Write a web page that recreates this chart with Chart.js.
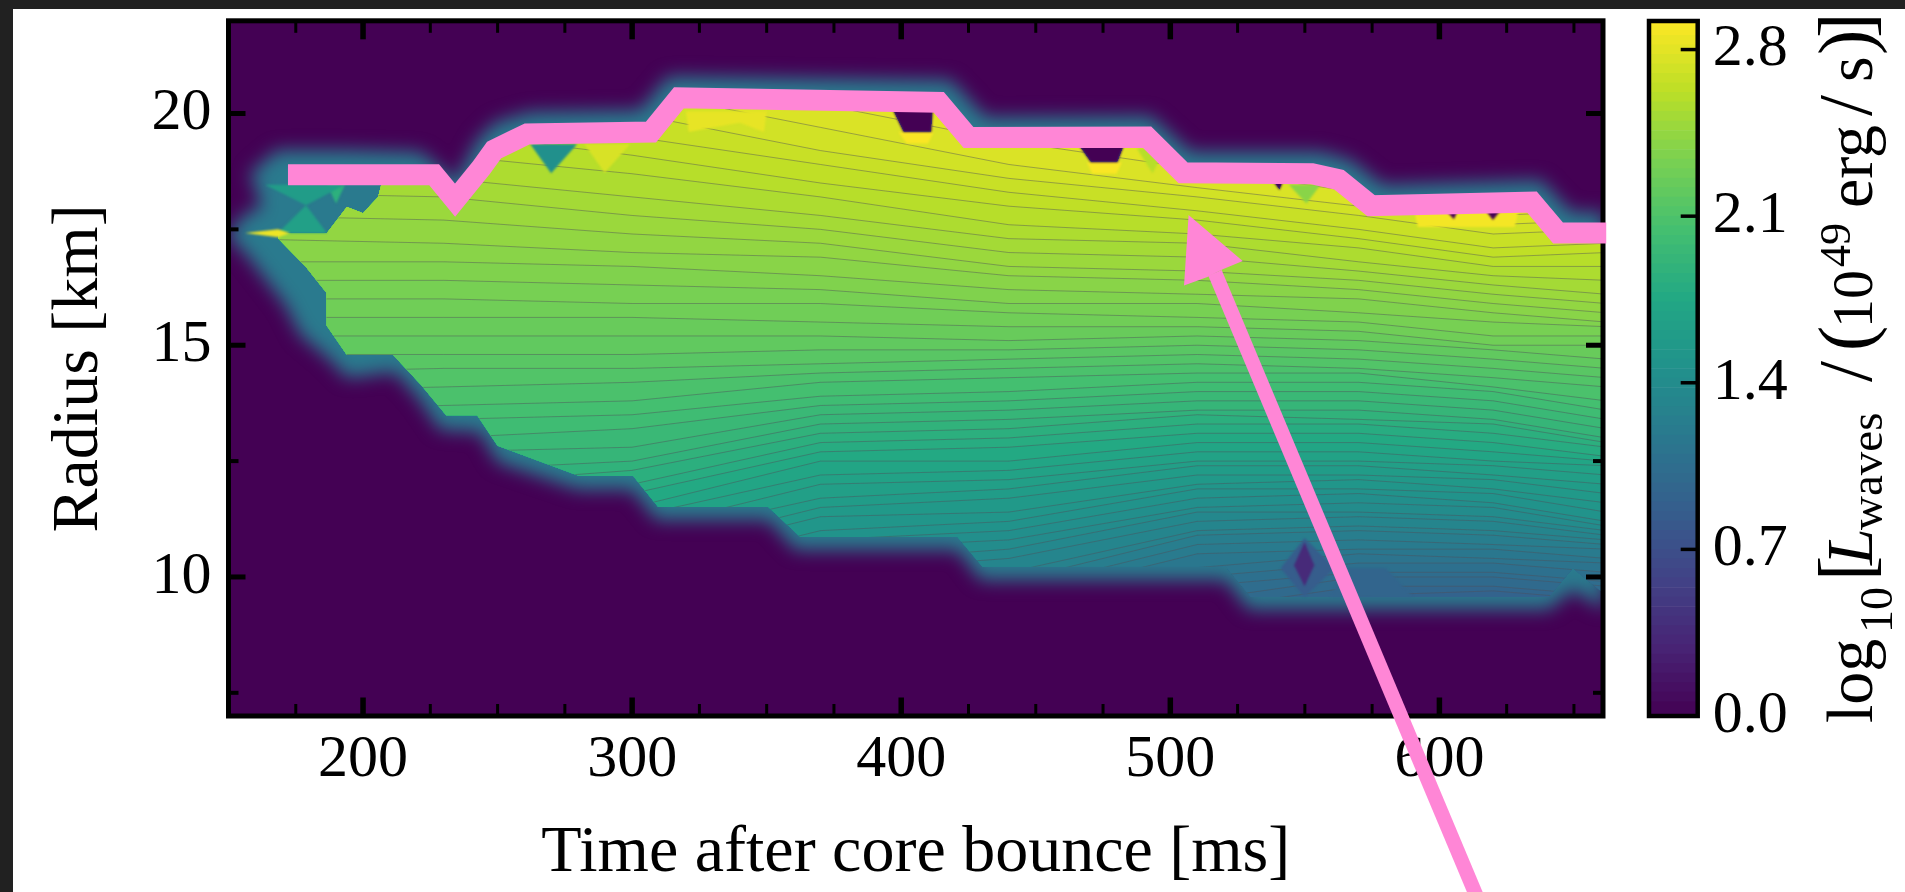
<!DOCTYPE html>
<html>
<head>
<meta charset="utf-8">
<title>Wave luminosity</title>
<script src="https://cdn.jsdelivr.net/npm/chart.js@4"></script>
<style>
  html, body { margin: 0; height: 100%; background: #212121; overflow: hidden; }
  #plate { position: absolute; left: 13px; top: 9px; right: 0; bottom: 0; background: #fff; }
  canvas { position: absolute; top: 0; }
  #mainChart { left: 0; }
  #barChart { left: 1600px; }
</style>
</head>
<body>
<div id="plate"></div>
<canvas id="mainChart" width="1905" height="892"></canvas>
<canvas id="barChart" width="305" height="892"></canvas>
<script>
// axes
const xMajorTicks = [200, 300, 400, 500, 600];
const xTicks = [175, 200, 225, 250, 275, 300, 325, 350, 375, 400, 425, 450, 475, 500, 525, 550, 575, 600, 625, 650];
const yMajorTicks = [10, 15, 20];
const yTicks = [7.5, 10, 12.5, 15, 17.5, 20];
const colorbarTicks = [0, 0.7, 1.4, 2.1, 2.8];

// contour levels of log10 L, each one has a radius at every contour time
const lowLevels = [0, 0.06, 0.10, 0.14, 0.18, 0.22, 0.26, 0.30, 0.34, 0.38, 0.42, 0.46, 0.50, 0.54, 0.58, 0.62, 0.66, 0.70, 0.74, 0.78, 0.82, 0.86];
const contourLevels = [0.90, 0.94, 0.98, 1.02, 1.06, 1.10, 1.14, 1.18, 1.22, 1.26,
  1.30, 1.34, 1.38, 1.42, 1.46, 1.50, 1.54, 1.58, 1.62, 1.66,
  1.70, 1.74, 1.78, 1.82, 1.86, 1.90, 1.94, 1.98, 2.02, 2.06,
  2.10, 2.14, 2.18, 2.22, 2.26, 2.30, 2.34, 2.38, 2.42, 2.46,
  2.50, 2.54, 2.58, 2.62, 2.66, 2.70, 2.74, 2.78, 2.82, 2.86, 2.90];
const contourTimes = [150, 230, 300, 370, 440, 510, 570, 620, 662];
const radiiAt150 = [5.0, 5.3, 5.5, 5.8, 6.1, 6.3, 6.6, 6.9, 7.1, 7.4,
  7.7, 7.9, 8.2, 8.5, 8.7, 9.0, 9.3, 9.6, 9.9, 10.2,
  10.5, 10.8, 11.1, 11.4, 11.7, 12.0, 12.4, 12.8, 13.2, 13.6,
  14.0, 14.4, 14.8, 15.2, 15.6, 16.0, 16.4, 16.8, 17.3, 17.8,
  18.3, 18.8, 19.3, 19.8, 20.2, 20.7, 21.1, 21.6, 22.1, 22.5, 23.0];
const radiiAt230 = [6.0, 6.2, 6.5, 6.7, 6.9, 7.2, 7.4, 7.6, 7.9, 8.1,
  8.3, 8.6, 8.8, 9.0, 9.3, 9.5, 9.8, 10.1, 10.4, 10.6,
  10.9, 11.2, 11.5, 11.7, 12.0, 12.3, 12.7, 13.0, 13.4, 13.7,
  14.1, 14.5, 14.8, 15.2, 15.6, 16.0, 16.4, 16.8, 17.2, 17.7,
  18.2, 18.6, 19.1, 19.6, 20.0, 20.5, 21.0, 21.5, 22.0, 22.5, 23.0];
const radiiAt300 = [6.5, 6.7, 7.0, 7.2, 7.4, 7.7, 7.9, 8.1, 8.4, 8.6,
  8.8, 9.1, 9.3, 9.5, 9.8, 10.0, 10.3, 10.5, 10.8, 11.0,
  11.3, 11.5, 11.8, 12.0, 12.3, 12.5, 12.8, 13.2, 13.5, 13.8,
  14.2, 14.5, 14.8, 15.2, 15.6, 15.9, 16.3, 16.7, 17.0, 17.4,
  17.8, 18.2, 18.7, 19.1, 19.5, 20.0, 20.5, 21.0, 21.5, 22.0, 22.5];
const radiiAt370 = [7.5, 7.7, 8.0, 8.2, 8.4, 8.7, 8.9, 9.2, 9.4, 9.6,
  9.9, 10.1, 10.3, 10.6, 10.8, 11.0, 11.3, 11.5, 11.7, 12.0,
  12.2, 12.5, 12.7, 12.9, 13.1, 13.3, 13.5, 13.7, 13.9, 14.2,
  14.4, 14.6, 14.9, 15.2, 15.5, 15.9, 16.2, 16.5, 16.9, 17.2,
  17.5, 17.8, 18.2, 18.5, 18.9, 19.2, 19.7, 20.2, 20.6, 21.1, 21.6];
const radiiAt440 = [8.0, 8.2, 8.4, 8.6, 8.9, 9.1, 9.3, 9.5, 9.7, 9.9,
  10.1, 10.4, 10.6, 10.8, 11.0, 11.2, 11.4, 11.7, 11.9, 12.1,
  12.3, 12.5, 12.8, 13.0, 13.2, 13.4, 13.6, 13.8, 14.0, 14.3,
  14.5, 14.7, 14.9, 15.1, 15.4, 15.7, 15.9, 16.2, 16.5, 16.7,
  17.0, 17.3, 17.6, 18.0, 18.3, 18.6, 18.9, 19.4, 19.8, 20.3, 20.8];
const radiiAt510 = [8.8, 9.1, 9.3, 9.5, 9.8, 10.0, 10.2, 10.5, 10.7, 10.9,
  11.0, 11.2, 11.4, 11.5, 11.7, 11.9, 12.0, 12.2, 12.4, 12.5,
  12.7, 12.9, 13.1, 13.3, 13.5, 13.6, 13.8, 14.0, 14.2, 14.4,
  14.6, 14.8, 15.0, 15.2, 15.4, 15.6, 15.9, 16.1, 16.4, 16.6,
  16.9, 17.2, 17.4, 17.7, 17.9, 18.2, 18.4, 18.8, 19.1, 19.5, 19.9];
const radiiAt570 = [9.4, 9.6, 9.8, 10.0, 10.1, 10.3, 10.5, 10.6, 10.8, 11.0,
  11.1, 11.3, 11.4, 11.6, 11.8, 11.9, 12.1, 12.2, 12.4, 12.5,
  12.7, 12.9, 13.1, 13.3, 13.4, 13.6, 13.8, 14.0, 14.2, 14.4,
  14.5, 14.7, 14.9, 15.1, 15.3, 15.5, 15.7, 16.0, 16.2, 16.4,
  16.6, 16.8, 17.1, 17.3, 17.5, 17.8, 18.0, 18.3, 18.6, 19.0, 19.3];
const radiiAt620 = [9.5, 9.7, 9.8, 10.0, 10.1, 10.3, 10.4, 10.6, 10.7, 10.9,
  11.0, 11.2, 11.3, 11.5, 11.6, 11.8, 11.9, 12.1, 12.2, 12.4,
  12.5, 12.7, 12.9, 13.1, 13.3, 13.4, 13.6, 13.8, 14.0, 14.1,
  14.3, 14.5, 14.7, 14.9, 15.0, 15.2, 15.5, 15.7, 15.9, 16.1,
  16.3, 16.5, 16.7, 16.9, 17.1, 17.4, 17.6, 17.8, 18.1, 18.5, 18.8];
const radiiAt662 = [9.3, 9.5, 9.6, 9.8, 9.9, 10.1, 10.3, 10.4, 10.6, 10.7,
  10.8, 10.9, 11.0, 11.1, 11.2, 11.4, 11.6, 11.8, 12.0, 12.2,
  12.4, 12.5, 12.6, 12.8, 12.9, 13.0, 13.2, 13.4, 13.6, 13.8,
  14.1, 14.3, 14.5, 14.7, 15.0, 15.2, 15.4, 15.5, 15.7, 15.9,
  16.1, 16.4, 16.7, 17.0, 17.2, 17.5, 17.7, 17.9, 18.1, 18.4, 18.6];

// upper and lower rim of the filled region
const topTimes = [168.4, 186.6, 194.0, 200.0, 205.6, 207.4, 226.4, 234.2, 244.0, 248.7, 255.4, 261.0, 307.0, 317.4, 395.0, 400.8, 411.2, 412.0, 414.0, 425.0, 463.8, 470.4, 480.4, 484.0, 491.3, 504.7, 536.0, 540.6, 543.0, 552.7, 562.7, 574.6, 600.0, 605.4, 608.0, 615.0, 619.9, 625.0, 634.4, 644.1, 662.0];
const topRadii = [17.42, 17.42, 17.98, 17.85, 18.2, 18.6, 18.68, 18.13, 18.83, 19.21, 19.40, 19.56, 19.60, 20.34, 20.30, 19.6, 19.6, 20.24, 20.24, 19.48, 19.48, 18.95, 18.95, 19.48, 19.49, 18.72, 18.71, 18.35, 18.70, 18.70, 18.57, 18.01, 18.05, 17.72, 18.05, 18.07, 17.70, 18.07, 18.09, 17.42, 17.42];
const bottomTimes = [168.4, 178.8, 186.4, 186.4, 194.0, 211.2, 221.6, 230.9, 242.4, 250.0, 280.3, 300.4, 309.7, 350.6, 362.5, 420.9, 430.2, 520.6, 529.9, 640.7, 649.6, 662.0];
const bottomRadii = [17.31, 16.69, 16.13, 15.43, 14.79, 14.79, 14.14, 13.49, 13.49, 12.83, 12.18, 12.18, 11.51, 11.51, 10.86, 10.86, 10.22, 10.22, 9.57, 9.57, 10.19, 9.60];

// fading rim around the region
const glowTopTimes = [149.8, 156.9, 162.4, 158.0, 168.0, 193.3, 221.2, 227.5, 234.2, 242.4, 249.1, 262.1, 303.0, 313.4, 418.3, 431.3, 492.7, 507.5, 555.9, 567.0, 579.0, 637.7, 648.9, 661.2];
const glowTopRadii = [17.42, 17.87, 17.98, 18.71, 19.21, 19.21, 19.17, 18.89, 18.50, 19.42, 19.81, 20.03, 20.07, 20.80, 20.72, 19.92, 19.94, 19.17, 19.17, 18.99, 18.45, 18.56, 17.87, 17.87];
const glowBottomTimes = [149.8, 156.1, 171.0, 176.6, 187.7, 194.0, 211.9, 220.5, 228.6, 243.5, 249.8, 280.0, 300.0, 309.0, 350.6, 360.7, 420.9, 429.5, 520.6, 529.1, 640.7, 649.6, 661.2];
const glowBottomRadii = [17.35, 16.99, 15.87, 15.22, 14.68, 14.29, 14.42, 13.86, 13.17, 13.13, 12.48, 11.88, 11.88, 11.23, 11.23, 10.58, 10.58, 9.93, 9.93, 9.29, 9.29, 9.72, 9.29];

// small dropouts and bright patches inside the region
const dipTimes = [
  [262.1, 279.6, 269.9], [282.2, 299.3, 289.8], [186.6, 193.3, 190.0], [544.0, 555.9, 550.6], [487.5, 498.3, 493.4],
  [541.0, 549.9, 561.1, 549.9], [546.0, 549.9, 553.5, 549.9], [565.2, 580.1, 590.1, 559.6], [168.4, 186.6, 178.8], [163.6, 193.3, 178.8], [156.1, 168.4, 172.9, 168.4],
  [320, 350, 349, 340, 330, 321], [399, 412, 410, 402], [469, 482, 480, 471], [590, 630, 628, 592],
  [395.0, 400.8, 411.2, 412.0], [463.8, 470.4, 480.4, 484.0], [536.0, 540.6, 543.0], [600.0, 605.4, 608.0], [615.0, 619.9, 625.0]
];
const dipRadii = [
  [19.34, 19.34, 18.71], [19.34, 19.34, 18.72], [18.46, 18.46, 18.06], [18.47, 18.47, 18.06], [19.25, 19.25, 18.71],
  [10.19, 10.84, 10.19, 9.57], [10.25, 10.75, 10.25, 9.8], [10.19, 10.19, 9.57, 9.57], [17.42, 17.42, 18.02], [18.46, 18.46, 18.02], [17.42, 17.50, 17.42, 17.33],
  [20.05, 20.05, 19.6, 19.8, 19.7, 19.6], [19.6, 19.6, 19.35, 19.35], [18.95, 18.95, 18.7, 18.7], [18.05, 18.05, 17.55, 17.55],
  [20.30, 19.60, 19.60, 20.30], [19.50, 18.95, 18.95, 19.50], [18.70, 18.35, 18.70], [18.05, 17.72, 18.05], [18.07, 17.70, 18.07]
];
const dipValues = [1.45, 2.75, 1.85, 2.4, 2.6, 0.85, 0.35, 0.95, 1.65, 1.6, 2.85, 2.82, 2.9, 2.9, 2.88, 0, 0, 0, 0, 0];

// the overlaid marker line and arrow
const pinkTimes = [172.1, 226.4, 234.2, 244.0, 248.7, 255.4, 261.0, 307.0, 317.4, 414.0, 425.0, 491.3, 504.7, 552.7, 562.7, 574.6, 634.4, 644.1, 662.0];
const pinkRadii = [18.68, 18.68, 18.13, 18.83, 19.21, 19.40, 19.56, 19.60, 20.34, 20.24, 19.48, 19.49, 18.72, 18.70, 18.57, 18.01, 18.09, 17.42, 17.42];
const arrowTimes = [516.6, 614.4];
const arrowRadii = [16.56, 3.03];
const arrowHeadTimes = [506.8, 526.9, 519.5, 513.8, 505.1];
const arrowHeadRadii = [17.81, 16.82, 16.64, 16.47, 16.29];

const VMAX = 2.92;
const PINK = '#ff86d6';
const SERIF = '"Liberation Serif", serif';
const viridis = ['#440154', '#482475', '#414487', '#355f8d', '#2a788e', '#21918c', '#22a884', '#44bf70', '#7ad151', '#bddf26', '#fde725'];

function toRgb(hex) {
  return [1, 3, 5].map(i => parseInt(hex.substr(i, 2), 16));
}

function levelColor(v) {
  const f = Math.min(Math.max(v / VMAX, 0), 1) * (viridis.length - 1);
  const i = Math.min(Math.floor(f), viridis.length - 2);
  const a = toRgb(viridis[i]);
  const b = toRgb(viridis[i + 1]);
  const c = a.map((n, j) => Math.round(n + (b[j] - n) * (f - i)));
  return 'rgb(' + c.join(',') + ')';
}

function points(times, radii) {
  return times.map((t, i) => ({ x: t, y: radii[i] }));
}

const contourRows = [radiiAt150, radiiAt230, radiiAt300, radiiAt370, radiiAt440, radiiAt510, radiiAt570, radiiAt620, radiiAt662];

const baseLine = { type: 'line', pointRadius: 0, borderWidth: 0, fill: false };
const datasets = [];

// drawn first, highest order
datasets.push(Object.assign({}, baseLine, {
  data: points(glowTopTimes.concat(glowBottomTimes.slice().reverse()), glowTopRadii.concat(glowBottomRadii.slice().reverse())),
  fill: 'shape',
  backgroundColor: '#2a7a8e',
  order: 1000,
  blur: 9
}));

contourLevels.forEach(function (level, k) {
  const next = contourLevels[k + 1] === undefined ? VMAX : contourLevels[k + 1];
  datasets.push(Object.assign({}, baseLine, {
    data: contourTimes.map((t, i) => ({ x: t, y: contourRows[i][k] })),
    fill: 'end',
    backgroundColor: levelColor((level + next) / 2),
    borderColor: 'rgba(80, 80, 90, 0.45)',
    borderWidth: 1,
    order: 900 - k,
    regionClip: true
  }));
});

dipValues.forEach(function (v, i) {
  datasets.push(Object.assign({}, baseLine, {
    data: points(dipTimes[i], dipRadii[i]),
    fill: 'shape',
    backgroundColor: levelColor(v),
    order: 100 - i,
    blur: 1
  }));
});

datasets.push(Object.assign({}, baseLine, {
  data: points(pinkTimes, pinkRadii),
  borderColor: PINK,
  borderWidth: 21,
  borderJoinStyle: 'miter',
  clip: false,
  order: 3,
  frameBelow: true
}));
datasets.push(Object.assign({}, baseLine, {
  data: points(arrowTimes, arrowRadii),
  borderColor: PINK,
  borderWidth: 14.5,
  clip: false,
  order: 2
}));
datasets.push(Object.assign({}, baseLine, {
  data: points(arrowHeadTimes, arrowHeadRadii),
  fill: 'shape',
  backgroundColor: PINK,
  clip: false,
  order: 1
}));

function clipRegion(chart) {
  const ctx = chart.ctx;
  const x = chart.scales.x;
  const y = chart.scales.y;
  ctx.beginPath();
  topTimes.forEach(function (t, i) {
    ctx.lineTo(x.getPixelForValue(t), y.getPixelForValue(topRadii[i]));
  });
  for (let i = bottomTimes.length - 1; i >= 0; i--) {
    ctx.lineTo(x.getPixelForValue(bottomTimes[i]), y.getPixelForValue(bottomRadii[i]));
  }
  ctx.closePath();
  ctx.clip();
}

function drawTick(ctx, x1, y1, x2, y2, width) {
  ctx.lineWidth = width;
  ctx.beginPath();
  ctx.moveTo(x1, y1);
  ctx.lineTo(x2, y2);
  ctx.stroke();
}

function drawFrame(chart) {
  const ctx = chart.ctx;
  const a = chart.chartArea;
  ctx.save();
  ctx.strokeStyle = '#000';
  xTicks.forEach(function (t) {
    const major = xMajorTicks.includes(t);
    const px = chart.scales.x.getPixelForValue(t);
    const len = major ? 18.5 : 12;
    const w = major ? 5.5 : 3;
    drawTick(ctx, px, a.top, px, a.top + len, w);
    drawTick(ctx, px, a.bottom, px, a.bottom - len, w);
  });
  yTicks.forEach(function (r) {
    const major = yMajorTicks.includes(r);
    const py = chart.scales.y.getPixelForValue(r);
    const len = major ? 17 : 10;
    const w = major ? 5 : 4;
    drawTick(ctx, a.left, py, a.left + len, py, w);
    drawTick(ctx, a.right, py, a.right - len, py, w);
  });
  ctx.lineWidth = 5;
  ctx.strokeRect(a.left, a.top, a.right - a.left, a.bottom - a.top);
  ctx.restore();
}

// filler draws inside beforeDatasetDraw, so a layer's clip and blur are set when the layer before it ends
function openLayer(chart, meta) {
  const ds = chart.data.datasets[meta.index];
  const ctx = chart.ctx;
  if (ds.frameBelow) {
    drawFrame(chart);
  }
  ctx.save();
  if (ds.blur) {
    ctx.filter = 'blur(' + ds.blur + 'px)';
  }
  if (ds.regionClip) {
    clipRegion(chart);
  }
}

const layerEffects = {
  id: 'layerEffects',
  beforeDraw(chart) {
    const a = chart.chartArea;
    chart.ctx.fillStyle = '#440154';
    chart.ctx.fillRect(a.left, a.top, a.right - a.left, a.bottom - a.top);
  },
  beforeDatasetsDraw(chart) {
    const metas = chart.getSortedVisibleDatasetMetas();
    openLayer(chart, metas[metas.length - 1]);
  },
  afterDatasetDraw(chart, args) {
    const metas = chart.getSortedVisibleDatasetMetas();
    chart.ctx.restore();
    const pos = metas.findIndex(m => m.index === args.meta.index);
    if (pos > 0) {
      openLayer(chart, metas[pos - 1]);
    }
  }
};

new Chart(document.getElementById('mainChart'), {
  type: 'line',
  data: { datasets: datasets },
  plugins: [layerEffects],
  options: {
    responsive: false,
    animation: false,
    devicePixelRatio: 1,
    layout: { padding: { left: 0, right: 302, top: 20.8, bottom: 0 } },
    plugins: { legend: { display: false }, tooltip: { enabled: false } },
    scales: {
      x: {
        type: 'linear',
        min: 150,
        max: 660.8,
        afterFit: s => { s.height = 176; s.paddingLeft = 0; s.paddingRight = 0; },
        afterBuildTicks: s => { s.ticks = xTicks.map(v => ({ value: v })); },
        grid: { display: false, drawTicks: false },
        border: { display: false },
        ticks: {
          autoSkip: false,
          maxRotation: 0,
          padding: 8,
          color: '#000',
          font: { family: SERIF, size: 60 },
          callback: v => xMajorTicks.includes(v) ? String(v) : ''
        },
        title: {
          display: true,
          text: 'Time after core bounce [ms]',
          color: '#000',
          font: { family: SERIF, size: 66, lineHeight: 1 },
          padding: { top: 0, bottom: 5 }
        }
      },
      y: {
        min: 7,
        max: 22,
        afterFit: s => { s.width = 228.5; s.paddingTop = 0; s.paddingBottom = 0; },
        afterBuildTicks: s => { s.ticks = yTicks.map(v => ({ value: v })); },
        grid: { display: false, drawTicks: false },
        border: { display: false },
        ticks: {
          autoSkip: false,
          padding: 17,
          color: '#000',
          font: { family: SERIF, size: 60 },
          callback: v => yMajorTicks.includes(v) ? String(v) : ''
        },
        title: {
          display: true,
          text: 'Radius [km]',
          color: '#000',
          font: { family: SERIF, size: 66, lineHeight: 1 },
          padding: { top: 47, bottom: 0 }
        }
      }
    }
  }
});

// colorbar, one stacked bar per level
const barEdges = lowLevels.concat(contourLevels, [VMAX]);
const barSets = barEdges.slice(0, -1).map(function (lo, i) {
  return {
    data: [barEdges[i + 1] - lo],
    backgroundColor: levelColor((lo + barEdges[i + 1]) / 2),
    borderWidth: 0,
    barPercentage: 1,
    categoryPercentage: 1
  };
});

// label pieces: text, position along the bar, baseline, font
const labelTexts = ['log', '10', '[', 'L', 'waves', '/', '(', '10', '49', 'erg', '/', 's', ')', ']'];
const labelStarts = [723, 633, 581, 565, 530, 382, 351, 328, 267, 208, 116, 82, 55, 38];
const labelBaselines = [1872, 1892, 1871, 1872, 1882, 1871, 1871, 1872, 1850, 1872, 1871, 1872, 1871, 1871];
const labelFonts = ['66px', '46px', '76px', 'italic 66px', '47px', '76px', '76px', '58px', '44px', '66px', '76px', '66px', '76px', '76px'];

const barFrame = {
  id: 'barFrame',
  afterDraw(chart) {
    const ctx = chart.ctx;
    const a = chart.chartArea;
    ctx.save();
    ctx.strokeStyle = '#000';
    colorbarTicks.forEach(function (v) {
      const py = chart.scales.y.getPixelForValue(v);
      if (v > 0) {
        drawTick(ctx, a.right, py, a.right - 17, py, 3.5);
      }
    });
    ctx.lineWidth = 4.5;
    ctx.strokeRect(a.left, a.top, a.right - a.left, a.bottom - a.top);
    ctx.fillStyle = '#000';
    ctx.textAlign = 'left';
    ctx.textBaseline = 'alphabetic';
    labelTexts.forEach(function (text, i) {
      ctx.save();
      ctx.translate(labelBaselines[i] - 1600, labelStarts[i]);
      ctx.rotate(-Math.PI / 2);
      ctx.font = labelFonts[i] + ' ' + SERIF;
      ctx.fillText(text, 0, 0);
      ctx.restore();
    });
    ctx.restore();
  }
};

new Chart(document.getElementById('barChart'), {
  type: 'bar',
  data: { labels: [''], datasets: barSets },
  plugins: [barFrame],
  options: {
    responsive: false,
    animation: false,
    devicePixelRatio: 1,
    layout: { padding: { left: 49, right: 0, top: 21, bottom: 176 } },
    plugins: { legend: { display: false }, tooltip: { enabled: false } },
    scales: {
      x: { stacked: true, display: false },
      y: {
        stacked: true,
        position: 'right',
        min: 0,
        max: VMAX,
        afterFit: s => { s.width = 207.3; s.paddingTop = 0; s.paddingBottom = 0; },
        afterBuildTicks: s => { s.ticks = colorbarTicks.map(v => ({ value: v })); },
        grid: { display: false, drawTicks: false },
        border: { display: false },
        ticks: {
          autoSkip: false,
          padding: 15,
          color: '#000',
          font: { family: SERIF, size: 60 },
          callback: v => v.toFixed(1)
        }
      }
    }
  }
});
</script>
</body>
</html>
